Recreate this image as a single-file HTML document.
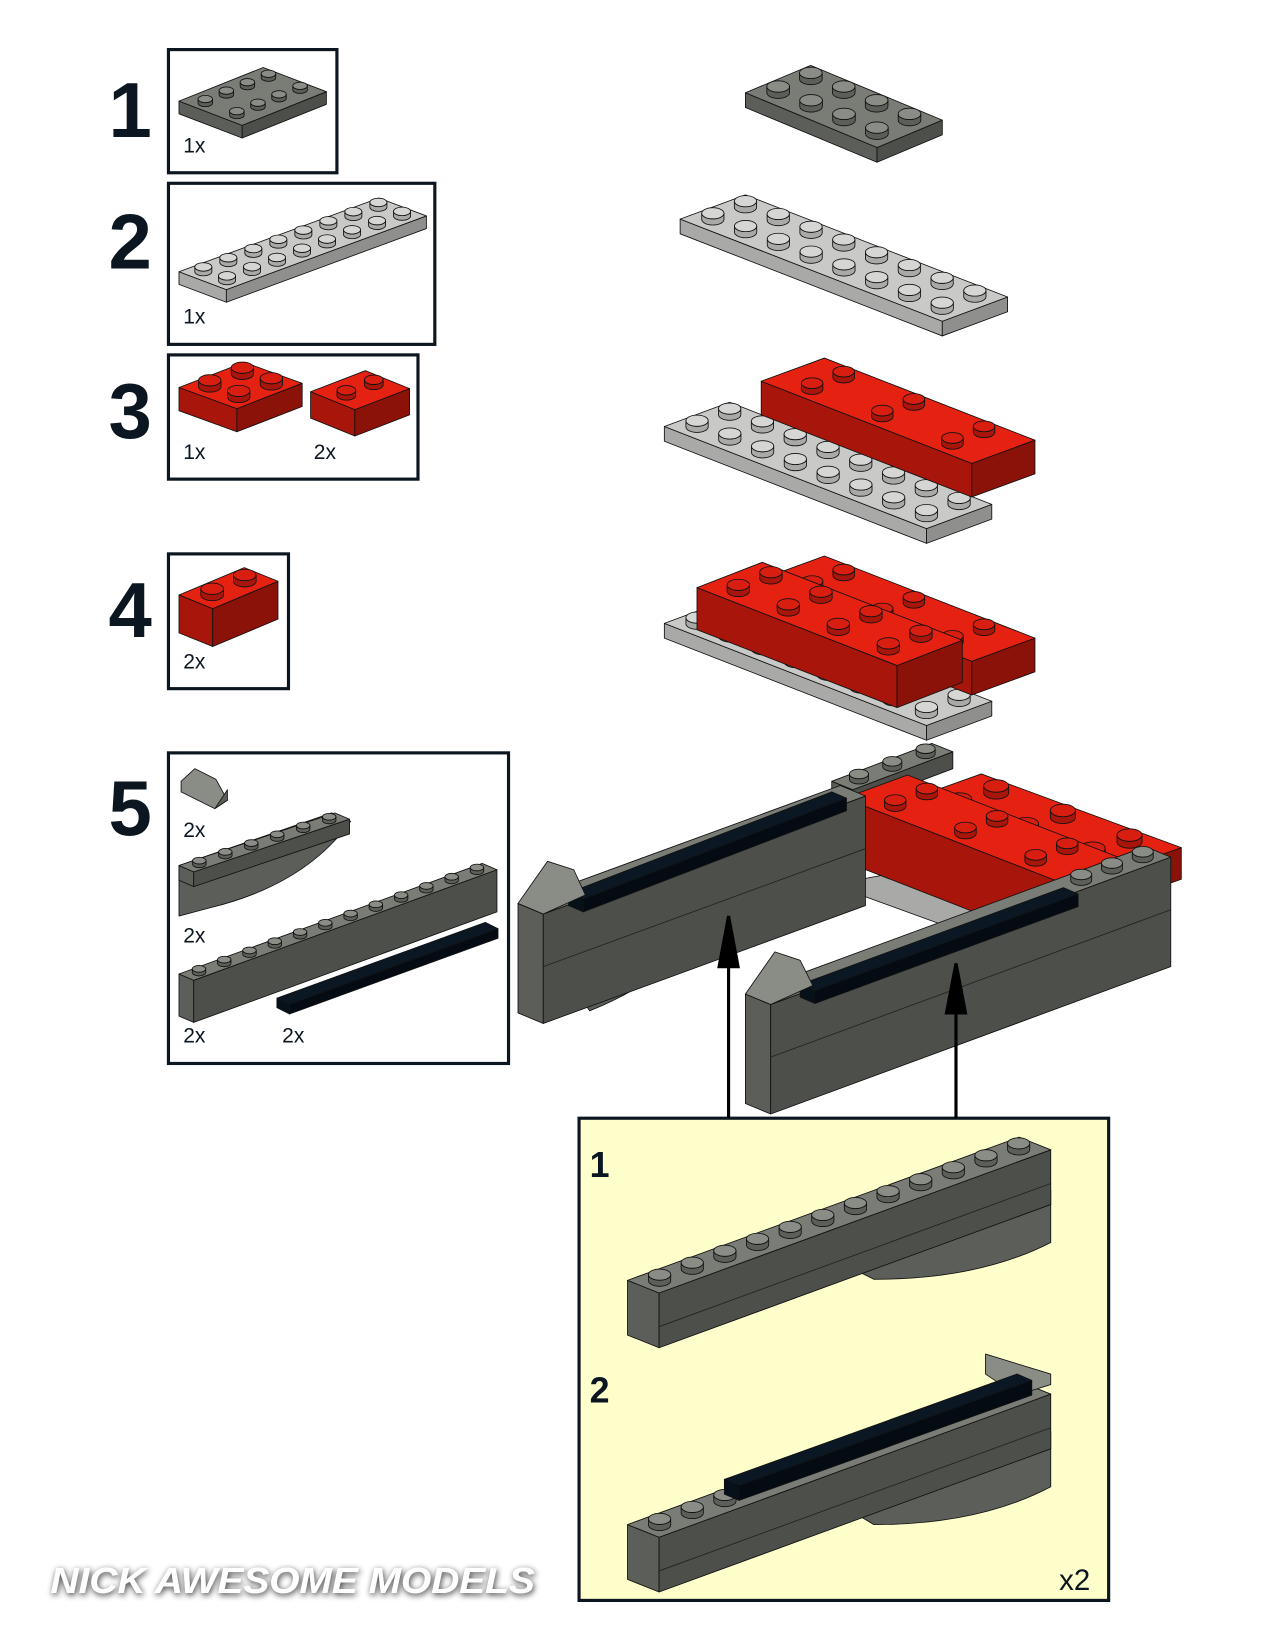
<!DOCTYPE html>
<html><head><meta charset="utf-8"><style>
html,body{margin:0;padding:0;background:#fff;}
svg{display:block;}
text{font-family:"Liberation Sans",sans-serif;}
</style></head><body>
<svg id="s" width="1275" height="1650" viewBox="0 0 1211 1567" xmlns="http://www.w3.org/2000/svg">
<defs>
<filter id="glow" x="-10%" y="-50%" width="120%" height="200%"><feGaussianBlur in="SourceAlpha" stdDeviation="3"/><feOffset dx="1" dy="2"/><feComponentTransfer><feFuncA type="linear" slope="0.8"/></feComponentTransfer><feMerge><feMergeNode/><feMergeNode in="SourceGraphic"/></feMerge></filter>
</defs>
<rect width="1211" height="1567" fill="#fff"/>
<g fill="none" stroke="#0b1620" stroke-width="3">
<rect x="160" y="47" width="160" height="117"/>
<rect x="160" y="174" width="253" height="153"/>
<rect x="160" y="337" width="237" height="118"/>
<rect x="160" y="526" width="114" height="128"/>
<rect x="160" y="715" width="323" height="295"/>
</g>
<rect x="550" y="1062" width="503" height="458" fill="#ffffcc" stroke="#0b1620" stroke-width="3"/>
<g font-weight="bold" font-size="74" fill="#0b1620">
<text x="103" y="130">1</text><text x="103" y="255">2</text><text x="103" y="416">3</text><text x="103" y="605">4</text><text x="103" y="793">5</text>
</g>
<g font-size="20" fill="#0b1620">
<text x="174" y="145">1x</text><text x="174" y="307">1x</text><text x="174" y="436">1x</text><text x="298" y="436">2x</text>
<text x="174" y="635">2x</text><text x="174" y="795">2x</text><text x="174" y="895">2x</text><text x="174" y="990">2x</text><text x="268" y="990">2x</text>
</g>
<g font-weight="bold" font-size="34" fill="#0b1620">
<text x="560" y="1118">1</text><text x="560" y="1332">2</text>
<text x="1006" y="1510" font-size="28" font-weight="normal">x2</text>
</g>
<g id="parts" stroke="#111" stroke-width="0.8" stroke-linejoin="round"></g>
<g stroke="#000" stroke-width="3" fill="#000">
<line x1="692" y1="1062" x2="692" y2="905"/><polygon points="683,918 701,918 692,870" />
<line x1="908" y1="1062" x2="908" y2="950"/><polygon points="899,962 917,962 908,915"/>
</g>
<text x="48" y="1513" font-size="34" font-weight="bold" font-style="italic" fill="#fff" filter="url(#glow)" textLength="460" lengthAdjust="spacingAndGlyphs">NICK AWESOME MODELS</text>
</svg>
<script>
var G=document.getElementById('parts');var NS='http://www.w3.org/2000/svg';
function el(t,a){var e=document.createElementNS(NS,t);for(var k in a)e.setAttribute(k,a[k]);G.appendChild(e);return e;}
function P(p){return p.map(function(a){return a[0].toFixed(1)+','+a[1].toFixed(1)}).join(' ');}
var DG=['#7a7c76','#5c5e59','#4d4f4a','#8a8c86'],LG=['#c9cac7','#a9aaa7','#8f908d','#d6d7d4'],RD=['#e52212','#a8160b','#8a1208','#d81e10'],BK=['#0b1824','#06111a','#040b12','#0b1824'];
function brick(ox,oy,ux,uy,vx,vy,h,c,nu,nv,studMask){
 var o=[ox,oy],u=[ox+ux,oy+uy],uv=[ox+ux+vx,oy+uy+vy],v=[ox+vx,oy+vy];
 el('polygon',{points:P([o,u,[u[0],u[1]+h],[o[0],o[1]+h]]),fill:c[1]});
 el('polygon',{points:P([u,uv,[uv[0],uv[1]+h],[u[0],u[1]+h]]),fill:c[2]});
 el('polygon',{points:P([o,v,uv,u]),fill:c[0]});
 if(!nu||!nv)return;
 var r=Math.min(Math.hypot(ux,uy)/nu*0.42,Math.hypot(vx,vy)/nv*0.32);var sh=r*0.55;
 for(var j=nv-1;j>=0;j--)for(var i=0;i<nu;i++){
  if(studMask&&!studMask(i,j))continue;
  var cx=ox+(i+.5)/nu*ux+(j+.5)/nv*vx,cy=oy+(i+.5)/nu*uy+(j+.5)/nv*vy;
  el('path',{d:'M'+(cx-r)+','+cy+' v'+(-sh)+' a'+r+','+(r*.5)+' 0 0 0 '+(2*r)+',0 v'+sh+' a'+r+','+(r*.5)+' 0 0 1 '+(-2*r)+',0z',fill:c[1]});
  el('ellipse',{cx:cx,cy:cy-sh,rx:r,ry:r*.5,fill:c[3]});
 }
}
function poly(pts,f){el('polygon',{points:P(pts),fill:f});}
function path(d,f){el('path',{d:d,fill:f});}
// Legend 1
brick(170,96,60,23,80,-32,12,DG,2,4);
// Legend 2
brick(170,258,45,17,190,-70,12,LG,2,8);
// Legend 3
brick(170,368,55,20,62,-24,22,RD,2,2);
brick(295,372,42,17,52,-20,25,RD,1,2);
// Legend 4
brick(170,565,32,13,62,-26,36,RD,1,2);
// Legend 5
poly([[172,742],[185,730],[205,740],[216,760],[204,768],[172,752]],'#8a8c86');
path('M204,768 L216,760 L216,750 Z','#5c5e59');
path('M170,870 L170,822 L315,772 L333,780 Q290,840 200,862 Z','#5c5e59');
brick(170,822,14,6,148,-50,14,DG,1,6);
brick(170,925,14,6,288,-105,40,DG,1,12);
brick(263,948,12,6,198,-72,9,BK,0,0);
// Big step 1
brick(708,88,125,52,62,-26,14,DG,4,2);
// Big step 2
brick(646,208,249,97,62,-23,14,LG,8,2);
// Big step 3
brick(631,405,249,97,62,-23,14,LG,8,2);
brick(723,362,200,78,60,-22,32,RD,3,2);
// Big step 4
brick(631,592,249,97,62,-23,14,LG,8,2);
brick(723,550,200,78,60,-22,32,RD,3,2);
brick(662,558,190,74,62,-24,40,RD,4,2);
// Big step 5
poly([[1010,870],[1080,850],[1080,885],[1010,910]],'#a9aaa7');
poly([[790,840],[900,880],[1010,860],[900,820]],'#a9aaa7');
brick(790,742,20,8,95,-36,16,DG,1,3);
brick(862,760,190,70,70,-25,30,RD,3,2);
brick(802,758,200,78,60,-22,60,RD,3,2);
// left beam
path('M520,900 L710,830 Q660,920 560,960 Z','#5c5e59');
brick(492,858,24,10,306,-112,104,DG,0,0);
el('line',{x1:516,y1:918,x2:822,y2:806,stroke:'#222'});
brick(540,848,14,6,250,-96,12,BK,0,0);
poly([[492,858],[520,818],[545,826],[556,850],[516,868]],'#8a8c86');
// right beam
path('M740,990 L925,920 Q880,990 770,1040 Z','#5c5e59');
brick(708,944,24,10,380,-140,104,DG,1,13,function(i,j){return j>9;});
el('line',{x1:732,y1:1004,x2:1112,y2:864,stroke:'#222'});
brick(760,935,14,6,250,-92,12,BK,0,0);
poly([[708,944],[736,904],[760,912],[772,936],[732,954]],'#8a8c86');
// yellow box beam 1
path('M800,1200 L998,1130 L998,1180 Q930,1215 830,1215 Z','#5c5e59');
brick(596,1216,30,12,372,-136,52,DG,1,12);
el('line',{x1:626,y1:1260,x2:998,y2:1124,stroke:'#222'});
// beam 2
path('M800,1430 L998,1360 L998,1412 Q930,1448 830,1448 Z','#5c5e59');
brick(596,1448,30,12,372,-136,52,DG,1,12,function(i,j){return i+j<3;});
el('line',{x1:626,y1:1492,x2:998,y2:1356,stroke:'#222'});
poly([[936,1286],[998,1305],[998,1315],[966,1325],[936,1305]],'#8a8c86');
brick(688,1405,14,6,278,-100,14,BK,0,0);
</script>
</body></html>
